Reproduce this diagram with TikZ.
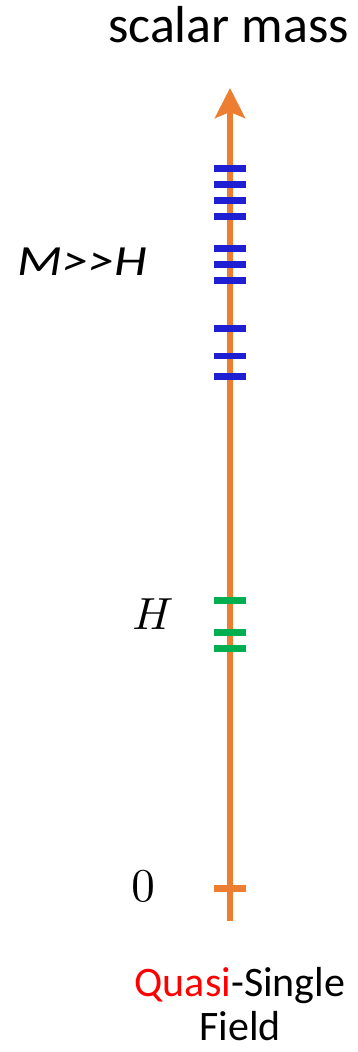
\documentclass[tikz,border=0pt]{standalone}
\usepackage{fontspec}
\setmainfont{Carlito}
\usetikzlibrary{arrows.meta}
\definecolor{axisorange}{HTML}{ED7D31}
\definecolor{tickblue}{RGB}{30,30,210}
\definecolor{tickgreen}{HTML}{00B050}
\definecolor{quasired}{HTML}{FF0000}
\begin{document}
\begin{tikzpicture}[x=1pt,y=-1pt,
  tickline/.style={line width=6.5pt},
  bluetick/.style={tickline,draw=tickblue},
  greentick/.style={tickline,draw=tickgreen},
  zerotick/.style={tickline,draw=axisorange},
  axisline/.style={draw=axisorange,line width=5.5pt,-{Stealth[length=30pt,width=30pt,inset=6pt]}},
  lbl/.style={inner sep=0pt}]
\useasboundingbox (0,0) rectangle (357,1052);
\coordinate (bot) at (230,921);
\coordinate (top) at (230,88);
\draw[axisline] (bot) -- (top);
\foreach \y in {168.3,184.3,200.7,216.7,248.7,264.7,280.7,328.7,356,376.7}
  \draw[bluetick] (214,\y) -- (246,\y);
\foreach \y in {600.7,632.7,648.7}
  \draw[greentick] (214,\y) -- (246,\y);
\draw[zerotick] (214,888.7) -- (246,888.7);
\node[lbl,font=\fontsize{52}{60}\selectfont,anchor=base] (title) at (228.5,42) {scalar mass};
\node[lbl,font=\fontsize{43}{50}\selectfont\itshape,anchor=base] (mh) at (82.5,275) {\scalebox{1.22}[1]{M>\kern0pt>H}};
\node[lbl] (hl) at (153,614) {\scalebox{4.5}{$H$}};
\node[lbl] (zero) at (143,886) {\scalebox{4.7}{$0$}};
\node[lbl,align=center,font=\fontsize{42}{44}\selectfont] (field) at (240,1004) {\textcolor{quasired}{Quasi}-Single\\Field};
\end{tikzpicture}
\end{document}
